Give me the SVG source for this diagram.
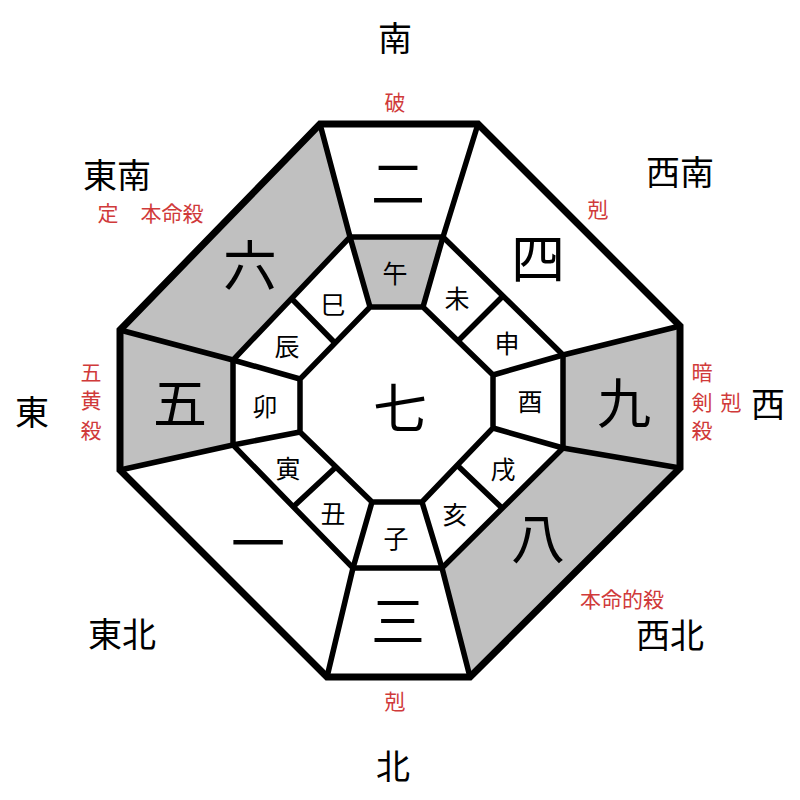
<svg xmlns="http://www.w3.org/2000/svg" width="800" height="800" viewBox="0 0 800 800">
<style>
.bg{fill:#fff}
.g{fill:#c0c0c0}
.w{fill:#fff}
.ln{stroke:#000;stroke-width:5.5;fill:none;stroke-linejoin:miter}
.outer{stroke:#000;stroke-width:7;fill:none;stroke-linejoin:miter}
text{font-family:"Noto Sans CJK JP","Noto Sans CJK SC",sans-serif;text-anchor:middle;dominant-baseline:central;fill:#000}
.big{font-size:54px}
.zod{font-size:25px}
.dir{font-size:34px}
.red{font-size:21px;fill:#d03a3a}
</style>
<rect class="bg" x="0" y="0" width="800" height="800"/>
<g id="cell-2"><polygon class="w" points="320,124 478,124 443,237 350,237"/><text class="big" x="398" y="180">二</text></g>
<g id="cell-4"><polygon class="w" points="478,124 680,326 563,355 443,237"/><text class="big" x="538" y="255">四</text></g>
<g id="cell-9"><polygon class="g" points="680,326 680,468 563,448 563,355"/><text class="big" x="624" y="400">九</text></g>
<g id="cell-8"><polygon class="g" points="680,468 470,677 442,568 563,448"/><text class="big" x="538" y="535">八</text></g>
<g id="cell-3"><polygon class="w" points="470,677 327,677 353,568 442,568"/><text class="big" x="398" y="618">三</text></g>
<g id="cell-1"><polygon class="w" points="327,677 120,470 233,445 353,568"/><text class="big" x="258" y="540">一</text></g>
<g id="cell-5"><polygon class="g" points="120,470 120,330 233,360 233,445"/><text class="big" x="180" y="400">五</text></g>
<g id="cell-6"><polygon class="g" points="120,330 320,124 350,237 233,360"/><text class="big" x="250" y="262">六</text></g>
<g id="cell-7"><polygon class="w" points="370,307 423,307 493,375 493,428 422,502 372,502 300,432 300,379"/><text class="big" x="400" y="405">七</text></g>
<g id="z-uma"><polygon class="g" points="350,237 443,237 423,307 370,307"/><text class="zod" x="395" y="272">午</text></g>
<g id="z-hitsuji"><text class="zod" x="457" y="297">未</text></g>
<g id="z-saru"><text class="zod" x="507" y="342">申</text></g>
<g id="z-tori"><text class="zod" x="530" y="400">酉</text></g>
<g id="z-inu"><text class="zod" x="503" y="468">戌</text></g>
<g id="z-i"><text class="zod" x="455" y="513">亥</text></g>
<g id="z-ne"><text class="zod" x="396" y="537">子</text></g>
<g id="z-ushi"><text class="zod" x="333" y="512">丑</text></g>
<g id="z-tora"><text class="zod" x="288" y="467">寅</text></g>
<g id="z-u"><text class="zod" x="265" y="405">卯</text></g>
<g id="z-tatsu"><text class="zod" x="287" y="345">辰</text></g>
<g id="z-mi"><text class="zod" x="333" y="303">巳</text></g>
<g id="connectors">
<polygon class="ln" points="350,237 443,237 563,355 563,448 442,568 353,568 233,445 233,360"/>
<polygon class="ln" points="370,307 423,307 493,375 493,428 422,502 372,502 300,432 300,379"/>
<path class="ln" d="M320,124L350,237M478,124L443,237M680,326L563,355M680,468L563,448M470,677L442,568M327,677L353,568M120,470L233,445M120,330L233,360"/>
<path class="ln" d="M370,307L350,237M423,307L443,237M493,375L563,355M493,428L563,448M422,502L442,568M372,502L353,568M300,432L233,445M300,379L233,360"/>
<path class="ln" d="M335,343L291,298M458,341L503,296M457,465L502,508M336,467L293,507"/>
<polygon class="outer" points="320,124 478,124 680,326 680,468 470,677 327,677 120,470 120,330"/>
</g>
<g id="labels">
<text class="dir" x="395" y="36">南</text>
<text class="dir" x="117" y="173">東南</text>
<text class="dir" x="680" y="170">西南</text>
<text class="dir" x="32" y="410">東</text>
<text class="dir" x="768" y="402">西</text>
<text class="dir" x="122" y="632">東北</text>
<text class="dir" x="670" y="633">西北</text>
<text class="dir" x="393" y="764">北</text>
<text class="red" x="395" y="101">破</text>
<text class="red" x="108" y="212">定</text>
<text class="red" x="172" y="212">本命殺</text>
<text class="red" x="598" y="208">剋</text>
<text class="red" x="91" y="371">五</text>
<text class="red" x="91" y="399">黄</text>
<text class="red" x="91" y="429">殺</text>
<text class="red" x="702" y="371">暗</text>
<text class="red" x="702" y="401">剣</text>
<text class="red" x="702" y="429">殺</text>
<text class="red" x="731" y="401">剋</text>
<text class="red" x="622" y="598">本命的殺</text>
<text class="red" x="395" y="700">剋</text>
</g>
</svg>
